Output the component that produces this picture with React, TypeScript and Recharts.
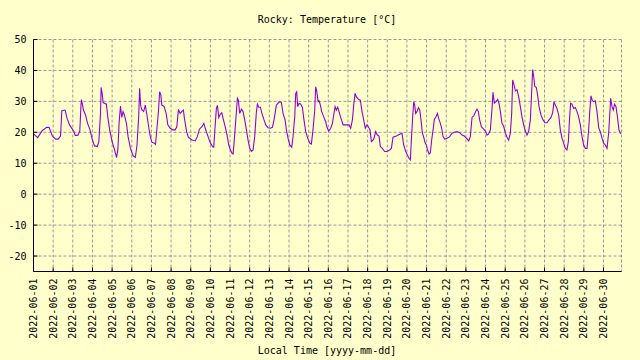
import React from 'react';
import { LineChart, Line, XAxis, YAxis, CartesianGrid } from 'recharts';

// hours since 2022-06-01 00:00 local time
const hours = [
  0, 5, 10.6, 16, 19, 23, 27, 30, 33, 34.6, 38.6, 41, 44, 47, 49, 51, 54, 56.5, 58, 58.6,
  61, 63.5, 66, 69, 72, 74.5, 77.8, 79.8, 81.8, 82.6, 83.8, 85, 89, 90.7, 93, 96, 99, 101.4,
  103, 104.6, 106.2, 107.8, 109.4, 111, 113.5, 115.5, 118.4, 121.6, 124.4, 126.4, 128.4,
  129.6, 130.8, 132.4, 134.5, 136.5, 138.5, 140.6, 142.6, 144.6, 147.5, 149, 150.6, 152.7,
  154, 155.5, 156.7, 159.5, 162, 164, 167, 170, 173, 175, 177, 179, 181, 183, 184.3, 187,
  189, 193.5, 197.5, 200, 202.6, 205.6, 208,
  210.3, 213.2, 215.2, 218.5, 220.1, 221.3, 223.3, 224.6, 226.2, 228.2, 229.9, 231.5, 233.5,
  236.4, 238.4, 240.4, 242.5, 243.7, 244.9, 247, 249, 250.2, 251.8, 253.9, 255.9, 257.9, 260,
  262, 264, 266.1, 268.1, 270.1, 272.2, 273.4, 275, 277.1, 278.7, 281.5, 283.6, 286.4, 289.3,
  291.7, 293.7, 296.6, 298.6, 300.7, 302.7, 304.7, 307.2, 308.8, 310.8, 312.9, 315.3, 316.9,
  319, 320.2, 321.4, 322.6, 324.3, 326.3, 328.3, 330, 332.4, 334.8, 337.3, 339.3, 341.3,
  343.4, 344.6, 345.8, 347.5, 348.7, 350.3, 351.9, 354.4, 356.8, 358.4, 360.5, 362.9, 365,
  366.6, 368.2, 369.8, 371.5, 373.1, 375.1, 378, 382, 385.3, 387.3, 389.4, 391, 392.6, 394.2,
  397.1, 399.1, 401.2, 403.2, 405.2, 407.3, 408.9, 410.9, 412.6, 415.4, 417.8, 419.9, 421.9,
  423.5, 426, 428.8, 431.7, 434.9, 437, 439, 443.1, 447.1, 450, 452, 454.5, 456.5, 458.5, 460.2,
  461.4, 463, 464.3, 465.5, 466.7, 468.3, 470, 471.6, 473.2, 474.9, 476.5, 478.1, 479.7, 481.4,
  483, 484.6, 486.2, 487.9, 489.5, 491.5, 493.2, 494.8, 496.8, 498.4, 500.1, 502.1, 505, 508.2,
  511.1, 513.9, 517.2, 520.4, 523.3, 526.1, 528.6, 531.4, 533.4, 535.5, 537.5, 540, 541.6,
  543.2, 544.8, 546.9, 549.7, 551.8, 553.8, 555.8, 557.9, 559.9, 561.1, 562.7, 564.8, 566.8,
  568.4, 570.1, 572.1, 574.1, 576.2, 578.2, 580.2, 582.3, 583.9, 585.1, 586.3, 588.4, 590.4,
  592.4, 594.5, 596.5, 598.5, 600.6, 602.6, 604.7, 606.7, 608.3, 609.5, 610.8, 612, 614,
  615.6, 617.3, 619.7, 622.1, 624.6, 627, 629.5, 631.9, 633.9, 635.6, 637.2, 639.2, 641.3,
  643.3, 645.3, 647.4, 649.4, 651.4, 653.1, 654.7, 655.9, 657.5, 659.6, 661.6, 663.7, 665.7,
  667.7, 669.8, 671.8, 673.8, 675.9, 677.9, 679.1, 680.7, 682.4, 684, 686, 688.1, 690.1,
  692.1, 694.2, 696.2, 698.2, 700.3, 702.3, 703.5, 704.8, 706.4, 708, 709.6, 711.3, 713.3,
  714.9, 716.5, 718,
];

// temperature in °C
const temps = [
  19.5, 18.3, 20.5, 21.6, 21.6, 18.8, 17.8, 17.8, 18.8, 27.0, 27.2, 24.5, 22.4, 21.2, 20.4, 19.0, 19.0, 20.4, 28.8, 30.6,
  27.2, 25.6, 22.9, 20.8, 17.5, 15.6, 15.4, 17.0, 26, 34.5, 32.6, 29.6, 29.1, 25, 20.8, 17, 14.3, 11.8,
  14.3, 23.4, 28.5, 24.8, 26.7, 25.6, 22.9, 18.6, 14.8, 12.4, 11.9, 15.9, 25,
  34.2, 28.8, 27.2, 26.7, 28.8, 25.6, 21.8, 18.6, 16.8, 16.5, 16.1, 20.8, 27.2,
  33.1, 32, 28.8, 28.3, 26.1, 22.4, 21.3, 20.8, 20.8, 21.8, 27.4, 26.1, 26.7, 27.2, 24.5, 20.2,
  18.4, 17.5, 17.2, 18.6, 21, 21.8, 22.9,
  20.8, 18.6, 17, 15.4, 15.2, 20.2, 27.7, 28.7, 24.8, 25.9, 26.3, 24.5, 22.4,
  19.1, 15.9, 14.3, 13.2, 13, 16.5, 24, 31, 30.4, 26.1, 27.5, 26.7, 24, 20.8,
  17.5, 14.8, 13.8, 14.3, 18.6, 26.7, 29.1, 28.1, 28.1, 26.3, 24, 22.4, 21.5, 21.3,
  21.6, 24, 28.8, 29.4, 29.9, 29.6, 26.1, 24, 20.8, 18.1, 15.9, 15.2, 18.6,
  25, 32.6, 33.1, 28.3, 29.4, 29.1, 28.1, 24.5, 20.2, 18.1, 16.5, 16.2, 20.8,
  27.2, 34.7, 33.4, 29.9, 30.2, 28.8, 26.7, 25, 23.4, 21.6, 20.4, 21.3, 22.9,
  25.6, 28.3, 27.2, 28.1, 26.7, 24.8, 22.4, 22.4, 22.4, 21.3, 24, 28.8, 32.6, 31.5,
  30.6, 30.4, 26.7, 24, 21.3, 22.4, 21.8, 20.8, 17, 17.7, 20.2, 19.1, 18.8,
  15.4, 14.8, 13.8, 13.8, 14.3, 14.8, 18.4, 18.8, 19.4, 19.7, 15.9, 13.8, 12.7, 11.6, 11.1,
  17.5, 25, 29.9, 28.8, 26.1, 26.7, 28, 27.2, 24, 19.7, 18.4, 16.7, 15.9, 14.1,
  13, 13.4, 17.5, 20.8, 24.2, 25, 26.1, 24.5, 22.9, 21.3, 18.6, 17.8, 18.1, 18.6,
  19.7, 20, 20.2, 19.9, 19.1, 18.8, 18.1, 17.2, 18.6, 24.8, 25.3, 26.7, 27.5,
  26.7, 24, 21.8, 21, 20.4, 19.1, 19.5, 20.8, 27.7, 32.9, 29.4, 29.9, 30.6,
  29.4, 26.7, 22.9, 22, 19.7, 18.4, 17.5, 19.7, 26.1, 36.9, 35.8, 33.4, 33.8,
  31.5, 28.3, 25, 22.4, 20.4, 19.1, 20.4, 24, 33.1, 40.3, 38, 34.9, 34.5,
  32, 28.3, 25.6, 24, 23.1, 23.1, 24, 24.8, 26.3, 29.9, 28.8, 27.7, 25.6,
  20.8, 18.1, 16.5, 14.8, 14.3, 17, 25, 29.4, 29.1, 27.7, 28, 26.7, 25,
  22.4, 18.6, 15.9, 14.8, 14.8, 20.8, 26.1, 31.8, 30.2, 29.9, 30.2, 26.7, 21.5,
  20.2, 18.1, 16.5, 15.9, 14.8, 19.7, 25, 31, 28.3, 27.2, 29.1, 28.3, 24.5,
  20.8, 19.7, 19.5,
];

const dayLabels = [
  '2022-06-01', '2022-06-02', '2022-06-03', '2022-06-04', '2022-06-05', '2022-06-06',
  '2022-06-07', '2022-06-08', '2022-06-09', '2022-06-10', '2022-06-11', '2022-06-12',
  '2022-06-13', '2022-06-14', '2022-06-15', '2022-06-16', '2022-06-17', '2022-06-18',
  '2022-06-19', '2022-06-20', '2022-06-21', '2022-06-22', '2022-06-23', '2022-06-24',
  '2022-06-25', '2022-06-26', '2022-06-27', '2022-06-28', '2022-06-29', '2022-06-30',
];

const yTicks = [-20, -10, 0, 10, 20, 30, 40, 50];

const data = hours.map((h, i) => ({ h, t: temps[i] }));
const dayTicks = dayLabels.map((_, i) => i * 24);

const font = "'DejaVu Sans Mono', 'Liberation Mono', monospace";
const TICK_LEN = 4;
const MARGIN = 7;

const BottomTick = ({ x, y, payload }: any) => {
  const label = dayLabels[Math.round(payload.value / 24)];
  const axisY = y - MARGIN;
  return (
    <g>
      <line x1={x} y1={axisY} x2={x} y2={axisY - TICK_LEN} stroke="#000" />
      <text
        x={x}
        y={y}
        transform={`rotate(-90, ${x}, ${y})`}
        textAnchor="end"
        dy="0.35em"
        fontFamily={font}
        fontSize={10}
        fill="#000"
      >
        {label}
      </text>
    </g>
  );
};

const LeftTick = ({ x, y, payload }: any) => {
  const axisX = x + MARGIN;
  return (
    <g>
      <line x1={axisX} y1={y} x2={axisX + TICK_LEN} y2={y} stroke="#000" />
      <text x={x} y={y} textAnchor="end" dy="0.35em" fontFamily={font} fontSize={10} fill="#000">
        {payload.value}
      </text>
    </g>
  );
};

const TopTick = ({ x, y }: any) => (
  <line x1={x} y1={y} x2={x} y2={y + TICK_LEN} stroke="#000" />
);

const RightTick = ({ x, y }: any) => (
  <line x1={x} y1={y} x2={x - TICK_LEN} y2={y} stroke="#000" />
);

export default function App() {
  return (
    <div
      style={{
        position: 'absolute',
        left: 0,
        top: 0,
        width: 640,
        height: 360,
        background: '#ffffcc',
        fontFamily: font,
      }}
    >
      <div
        style={{
          position: 'absolute',
          left: 0,
          width: 654,
          top: 14,
          textAlign: 'center',
          fontSize: 10,
          lineHeight: '12px',
        }}
      >
        Rocky: Temperature [°C]
      </div>
      <LineChart
        width={640}
        height={360}
        data={data}
        margin={{ top: 39.5, right: 18.5, left: 0, bottom: 0 }}
      >
        <CartesianGrid stroke="#999999" strokeDasharray="3 2" />
        <XAxis
          dataKey="h"
          type="number"
          domain={[0, 718]}
          ticks={dayTicks}
          interval={0}
          height={88.5}
          tickSize={0}
          tickMargin={MARGIN}
          tickLine={false}
          tick={BottomTick}
          axisLine={{ stroke: '#000' }}
          allowDataOverflow
        />
        <XAxis
          xAxisId="top"
          orientation="top"
          dataKey="h"
          type="number"
          domain={[0, 718]}
          ticks={dayTicks}
          interval={0}
          height={0}
          tickSize={0}
          tickMargin={0}
          tickLine={false}
          tick={TopTick}
          axisLine={{ stroke: '#000' }}
          allowDataOverflow
        />
        <YAxis
          type="number"
          domain={[-25, 50]}
          ticks={yTicks}
          interval={0}
          width={33.5}
          tickSize={0}
          tickMargin={MARGIN}
          tickLine={false}
          tick={LeftTick}
          axisLine={{ stroke: '#000' }}
          allowDataOverflow
        />
        <YAxis
          yAxisId="right"
          orientation="right"
          type="number"
          domain={[-25, 50]}
          ticks={yTicks}
          interval={0}
          width={0}
          tickSize={0}
          tickMargin={0}
          tickLine={false}
          tick={RightTick}
          axisLine={{ stroke: '#000' }}
          allowDataOverflow
        />
        <Line
          type="linear"
          dataKey="t"
          stroke="#9400d3"
          strokeWidth={1.1}
          dot={false}
          activeDot={false}
          isAnimationActive={false}
        />
      </LineChart>
      <div
        style={{
          position: 'absolute',
          left: 0,
          width: 654,
          top: 345,
          textAlign: 'center',
          fontSize: 10,
          lineHeight: '12px',
        }}
      >
        Local Time [yyyy-mm-dd]
      </div>
    </div>
  );
}
